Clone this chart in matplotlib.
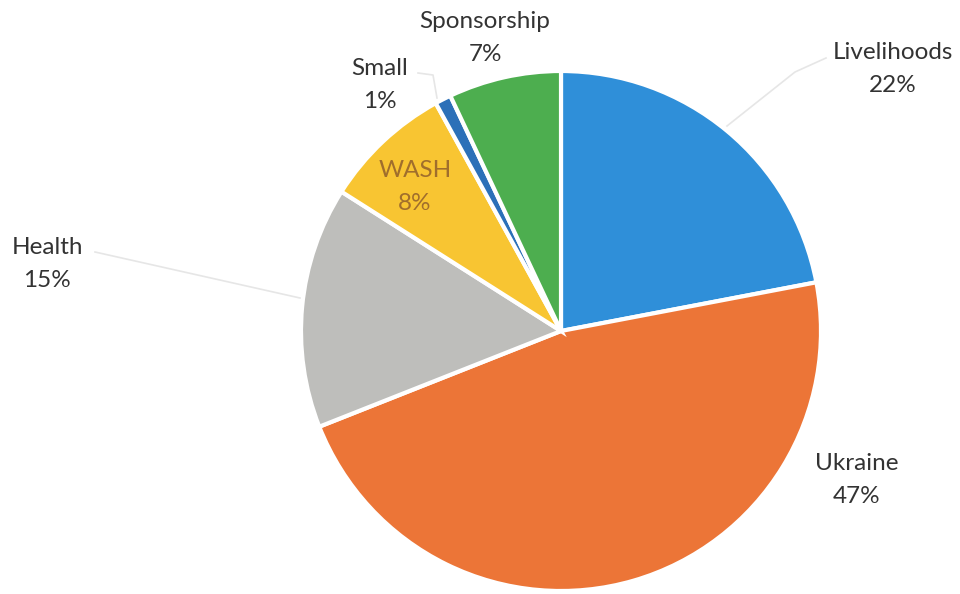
import matplotlib.pyplot as plt

# programme share of spend (%), clockwise from 12 o'clock
labels = ['Livelihoods', 'Ukraine', 'Health', 'WASH', 'Small', 'Sponsorship']
shares = [22, 47, 15, 8, 1, 7]
colors = ['#2F8FD9', '#EC7537', '#BEBEBB', '#F8C532', '#2C70B8', '#4DAE4F']

plt.rcParams['font.family'] = ['Lato', 'DejaVu Sans']

fig = plt.figure(figsize=(9.6, 5.94), dpi=100)
ax = fig.add_axes([0, 0, 1, 1])

# pie laid out in pixel coordinates (y measured upward)
ax.pie(shares, colors=colors, startangle=90, counterclock=False,
       center=(561, 263), radius=260, frame=True,
       wedgeprops=dict(edgecolor='white', linewidth=3))
ax.set_xlim(0, 960)
ax.set_ylim(0, 594)
ax.set_aspect('equal')
ax.axis('off')

# label placement (pixel x, pixel y from top)
label_pos = [(893, 69), (857, 480), (47, 264), (415, 187), (380, 85), (485, 38)]
for name, val, (x, y) in zip(labels, shares, label_pos):
    col = '#A06E2C' if name == 'WASH' else '#333333'
    ax.text(x, 594 - y, f'{name}\n{val}%', ha='center', va='center',
            fontsize=17.5, color=col, linespacing=1.75)

# faint leader lines
leader = '#E6E6E6'
ax.plot([727, 795, 826], [594 - 126, 594 - 72, 594 - 58], color=leader, lw=1.2)
ax.plot([300, 95], [594 - 298, 594 - 252], color=leader, lw=1.2)
ax.plot([437, 433, 418], [594 - 98, 594 - 75, 594 - 73], color=leader, lw=1.2)

fig.savefig('out.png', dpi=100, facecolor='white')
